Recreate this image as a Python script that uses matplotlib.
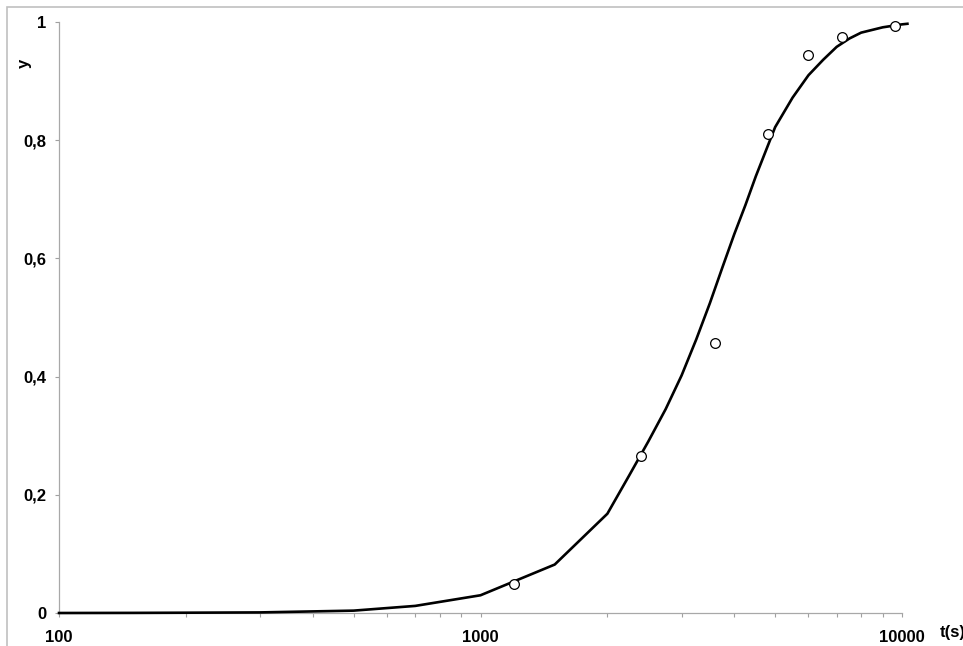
import matplotlib.pyplot as plt
from matplotlib.patches import Rectangle
from matplotlib.ticker import FixedLocator, LogLocator, NullFormatter

plt.rcParams['font.family'] = ['Liberation Sans', 'DejaVu Sans']

# fitted curve
t_fit = [100, 150, 200, 300, 500, 700, 1000, 1500, 2000, 2250, 2500, 2750,
         3000, 3250, 3500, 3750, 4000, 4250, 4500, 5000, 5500, 6000, 6500,
         7000, 7500, 8000, 9000, 10000, 10300]
y_fit = [0.0, 0.0002, 0.0005, 0.001, 0.004, 0.012, 0.030, 0.082, 0.168, 0.232,
         0.290, 0.345, 0.402, 0.463, 0.524, 0.585, 0.641, 0.690, 0.739, 0.822,
         0.872, 0.910, 0.936, 0.958, 0.972, 0.982, 0.991, 0.996, 0.997]

# measured points
t_exp = [1200, 2400, 3600, 4800, 6000, 7200, 9600]
y_exp = [0.049, 0.266, 0.457, 0.810, 0.944, 0.975, 0.993]

y_ticks = [0, 0.2, 0.4, 0.6, 0.8, 1.0]
y_labels = ["0", "0,2", "0,4", "0,6", "0,8", "1"]
x_ticks = [100, 1000, 10000]
x_labels = ["100", "1000", "10000"]

W, H = 963, 646
fig = plt.figure(figsize=(W / 100, H / 100), dpi=100)
ax = fig.add_axes([59 / W, 1 - 613 / H, 843 / W, 591 / H])

# outer chart border (clipped by the image edges)
fig.patches.append(Rectangle((7 / W, -0.2), 2, 1 - 7 / H + 0.2,
                             transform=fig.transFigure, fill=False,
                             edgecolor='#c0c0c0', linewidth=1.2))

ax.plot(t_fit, y_fit, color='black', linewidth=1.9, clip_on=False, zorder=3)
ax.plot(t_exp, y_exp, 'o', markersize=7, markerfacecolor='white',
        markeredgecolor='black', markeredgewidth=0.9, clip_on=False, zorder=4)

ax.set_xscale('log')
ax.set_xlim(100, 10000)
ax.set_ylim(0, 1)

ax.xaxis.set_major_locator(FixedLocator(x_ticks))
ax.set_xticklabels(x_labels)
ax.xaxis.set_minor_locator(LogLocator(base=10, subs=range(2, 10)))
ax.xaxis.set_minor_formatter(NullFormatter())
ax.set_yticks(y_ticks)
ax.set_yticklabels(y_labels)

for s in ['top', 'right']:
    ax.spines[s].set_visible(False)
for s in ['left', 'bottom']:
    ax.spines[s].set_color('#a8a8a8')
    ax.spines[s].set_linewidth(0.9)

ax.tick_params(axis='both', which='both', direction='out', length=3,
               width=0.8, color='#a0a0a0', labelsize=12)
ax.tick_params(axis='x', which='major', pad=9)
ax.tick_params(axis='y', which='major', pad=6)
for lab in ax.get_xticklabels() + ax.get_yticklabels():
    lab.set_fontweight('bold')

fig.text(24 / W, 1 - 63 / H, "y", rotation=90, fontsize=12, fontweight='bold',
         ha='center', va='center')
fig.text(940 / W, 1 - 633 / H, "t(s)", fontsize=12, fontweight='bold',
         ha='left', va='center')

fig.savefig("out.png", dpi=100)
